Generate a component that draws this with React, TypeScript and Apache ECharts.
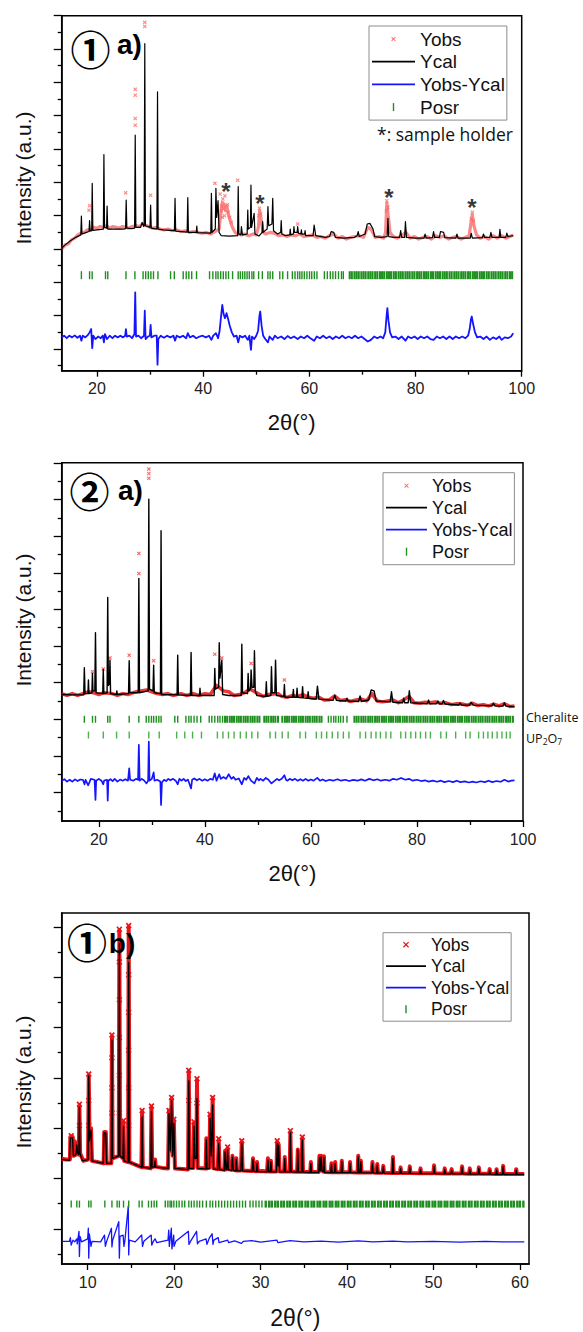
import React, { useEffect, useRef } from "react";
import * as echarts from "echarts";

const FONT = "'Liberation Sans', Arial, Helvetica, sans-serif";

// ================= Panel ① a) =================
const p1XTicks = [20, 40, 60, 80, 100];
const p1XMinorTicks = [30, 50, 70, 90];
const p1YTicks = [1.3, 3.3, 5.3, 7.3, 9.3, 11.3, 13.3, 15.3, 17.3, 19.3, 21.3];
const p1YMinorTicks = [0.3, 2.3, 4.3, 6.3, 8.3, 10.3, 12.3, 14.3, 16.3, 18.3, 20.3];

const p1Ycal = [
  [13.35, 7.35], [14.0, 7.55], [15.0, 7.8], [16.0, 8.0], [16.95, 8.15], [17.06, 9.28], [17.17, 8.2], [18.0, 8.3], [18.5, 8.35], [18.6, 9.0], [18.7, 8.38], [19.0, 8.4], [19.1, 11.24], [19.22, 8.42], [20.0, 8.45], [21.2, 8.5], [21.3, 12.97], [21.42, 8.6], [21.8, 8.55], [21.9, 9.88], [22.02, 8.5], [23.0, 8.5], [25.0, 8.5], [25.38, 8.52], [25.5, 10.24], [25.62, 8.55], [26.5, 8.52], [27.08, 8.55], [27.2, 14.13], [27.32, 8.6], [28.2, 8.6], [28.5, 8.9], [28.8, 8.65], [28.88, 8.7], [29.0, 19.62], [29.12, 8.7], [29.98, 8.6], [30.1, 9.94], [30.22, 8.55], [31.28, 8.5], [31.4, 16.73], [31.52, 8.5], [32.5, 8.45], [34.58, 8.4], [34.7, 10.34], [34.82, 8.38], [36.98, 8.32], [37.1, 10.38], [37.22, 8.3], [38.7, 8.3], [38.8, 8.68], [38.9, 8.28], [41.43, 8.25], [41.55, 10.64], [41.67, 8.3], [42.28, 8.5], [42.4, 10.94], [42.55, 9.2], [42.8, 10.2], [43.0, 8.3], [43.4, 8.1], [45.0, 8.08], [46.48, 8.1], [46.6, 11.04], [46.72, 8.2], [47.1, 8.15], [47.2, 8.64], [47.4, 8.15], [48.28, 8.2], [48.4, 9.64], [48.5, 8.5], [48.9, 8.6], [49.0, 11.14], [49.12, 8.6], [49.6, 9.44], [49.75, 8.2], [50.5, 8.08], [51.1, 8.3], [51.2, 8.94], [51.3, 8.3], [52.05, 8.5], [52.2, 9.84], [52.35, 8.7], [52.95, 8.8], [53.1, 10.34], [53.25, 8.4], [54.0, 8.2], [54.6, 8.3], [54.7, 9.0], [54.82, 8.2], [55.5, 8.1], [56.3, 8.15], [56.4, 8.5], [56.5, 8.15], [57.0, 8.2], [57.1, 8.64], [57.2, 8.3], [57.7, 8.3], [57.8, 8.64], [57.95, 8.25], [58.4, 8.2], [58.5, 8.45], [58.6, 8.2], [59.1, 8.2], [59.2, 8.4], [59.3, 8.1], [60.7, 8.1], [60.9, 8.74], [61.2, 8.1], [63.0, 8.0], [63.8, 8.05], [64.1, 8.34], [64.6, 8.3], [64.9, 8.0], [66.5, 7.95], [68.5, 8.0], [69.0, 8.1], [69.2, 8.35], [69.4, 8.05], [70.5, 8.2], [70.9, 8.8], [71.4, 8.84], [72.0, 8.5], [72.3, 8.05], [73.5, 8.0], [74.65, 8.05], [74.8, 9.14], [74.95, 8.05], [76.0, 8.0], [77.0, 8.0], [77.2, 8.4], [77.4, 8.0], [77.95, 8.0], [78.1, 8.94], [78.3, 8.0], [80.0, 7.95], [81.6, 7.95], [81.8, 8.2], [82.0, 7.95], [83.2, 7.98], [83.4, 8.35], [83.6, 8.0], [84.5, 8.0], [84.7, 8.35], [85.3, 8.3], [85.5, 7.98], [87.6, 7.95], [87.8, 8.2], [88.0, 7.95], [90.3, 7.95], [90.5, 8.24], [90.7, 7.95], [92.6, 7.98], [92.8, 8.2], [93.0, 8.0], [94.0, 8.0], [94.2, 8.3], [94.4, 8.0], [95.75, 8.0], [95.9, 8.48], [96.05, 8.0], [97.0, 8.0], [97.2, 8.25], [97.4, 8.05], [98.4, 8.1],
];

const p1YobsBand = [
  [13.35, 7.3], [14.0, 7.55], [14.6, 7.6], [15.2, 7.85], [15.8, 7.95], [16.4, 8.15], [17.0, 8.25], [17.6, 8.3], [18.2, 8.45], [18.8, 8.45], [19.4, 8.6], [20.0, 8.55], [20.6, 8.65], [21.2, 8.6], [21.8, 8.7], [22.4, 8.55], [23.0, 8.65], [23.6, 8.6], [24.2, 8.55], [24.8, 8.65], [25.4, 8.6], [26.0, 8.55], [26.6, 8.65], [27.4, 8.7], [28.0, 8.65], [28.6, 8.8], [29.4, 8.7], [30.0, 8.6], [30.6, 8.55], [31.2, 8.6], [31.8, 8.5], [32.6, 8.45], [33.4, 8.5], [34.2, 8.4], [35.0, 8.45], [35.8, 8.35], [36.6, 8.4], [37.4, 8.3], [38.2, 8.35], [39.0, 8.3], [39.8, 8.25], [40.6, 8.3], [41.4, 8.2], [42.2, 8.35], [43.0, 8.5], [43.3, 9.4], [43.6, 10.1], [43.9, 10.0], [44.2, 9.6], [44.5, 9.8], [44.8, 9.3], [45.1, 9.0], [45.5, 8.6], [46.0, 8.3], [46.5, 8.2], [47.2, 8.15], [47.8, 8.2], [48.6, 8.1], [49.4, 8.2], [50.0, 8.15], [50.4, 8.6], [50.65, 9.6], [50.9, 9.1], [51.3, 8.3], [51.8, 8.2], [52.6, 8.3], [53.4, 8.25], [54.2, 8.1], [55.0, 8.15], [55.8, 8.05], [56.6, 8.15], [57.4, 8.1], [58.2, 8.2], [59.0, 8.05], [59.8, 8.1], [60.6, 8.15], [61.4, 8.0], [62.2, 8.05], [63.0, 7.95], [63.8, 8.1], [64.6, 8.2], [65.4, 7.95], [66.2, 8.05], [67.0, 7.9], [67.8, 8.0], [68.6, 8.05], [69.4, 8.1], [70.2, 8.0], [71.0, 8.6], [71.6, 8.5], [72.4, 8.0], [73.2, 8.05], [74.0, 7.95], [74.35, 8.3], [74.6, 10.05], [74.85, 9.3], [75.2, 8.3], [75.8, 8.05], [76.6, 7.95], [77.4, 8.1], [78.2, 8.3], [79.0, 7.95], [79.8, 8.05], [80.6, 7.9], [81.4, 8.0], [82.2, 8.05], [83.0, 7.9], [83.8, 8.1], [84.6, 8.0], [85.4, 8.1], [86.2, 7.9], [87.0, 8.0], [87.8, 8.05], [88.6, 7.9], [89.4, 8.0], [90.1, 8.1], [90.45, 8.9], [90.7, 9.35], [91.0, 8.7], [91.5, 8.15], [92.2, 7.95], [93.0, 8.05], [93.8, 7.9], [94.6, 8.1], [95.4, 7.95], [96.2, 8.1], [97.0, 7.95], [97.8, 8.05], [98.4, 8.15],
];

const p1YobsPoints = [
  [18.5, 9.63], [18.6, 9.9], [25.4, 10.67], [27.2, 16.88], [27.2, 16.53], [27.2, 15.13], [27.2, 14.73], [29.0, 20.9], [29.0, 20.65], [30.1, 10.53], [42.2, 11.24], [46.5, 11.43], [57.8, 8.8], [43.2, 10.6], [44.1, 10.5], [43.7, 10.3], [44.6, 9.95], [50.6, 9.75], [74.6, 10.2], [90.7, 9.5],
  [43.4, 9.6], [43.5, 9.9], [43.8, 9.7], [44.0, 9.3], [44.3, 9.9], [44.7, 9.5], [45.0, 9.2], [45.3, 8.9], [43.6, 9.2], [50.5, 9.3], [50.8, 9.4], [74.5, 9.6], [74.8, 9.8], [90.5, 9.1], [90.9, 9.0],
];

const p1Diff = [
  [13.35, 2.0], [13.8, 2.1], [14.3, 1.95], [14.8, 2.1], [15.3, 2.0], [15.8, 2.12], [16.3, 1.98], [16.8, 2.1], [17.06, 1.8], [17.3, 2.1], [17.8, 2.0], [18.3, 2.15], [18.6, 2.3], [18.9, 2.5], [19.1, 1.35], [19.3, 2.1], [19.7, 1.9], [20.2, 2.05], [20.7, 1.95], [21.1, 2.1], [21.3, 1.7], [21.5, 2.2], [21.9, 1.9], [22.4, 2.1], [22.9, 1.95], [23.4, 2.1], [23.9, 2.0], [24.4, 2.1], [24.9, 2.0], [25.3, 2.1], [25.45, 2.5], [25.6, 2.05], [26.1, 2.1], [26.6, 1.95], [27.05, 2.2], [27.2, 4.7], [27.35, 2.05], [27.8, 2.1], [28.3, 1.95], [28.85, 2.1], [29.0, 3.6], [29.15, 1.9], [29.6, 2.05], [29.95, 2.1], [30.1, 2.75], [30.25, 2.0], [30.8, 2.1], [31.25, 2.1], [31.4, 0.36], [31.55, 1.9], [32.0, 2.1], [32.6, 1.98], [33.2, 2.1], [33.8, 2.0], [34.4, 2.1], [34.7, 1.8], [35.0, 2.1], [35.6, 2.0], [36.2, 2.1], [36.8, 1.95], [37.1, 2.25], [37.5, 2.0], [38.1, 2.1], [38.7, 1.95], [39.3, 2.05], [39.9, 2.1], [40.5, 2.0], [41.1, 2.1], [41.55, 1.85], [41.9, 2.1], [42.4, 2.25], [42.8, 1.95], [43.1, 2.4], [43.35, 3.2], [43.6, 3.95], [43.85, 3.4], [44.1, 3.15], [44.4, 3.45], [44.7, 3.1], [45.0, 2.7], [45.4, 2.3], [45.8, 2.05], [46.3, 2.1], [46.6, 1.7], [46.9, 2.1], [47.4, 2.0], [47.9, 2.1], [48.4, 1.85], [48.7, 2.1], [49.0, 1.25], [49.2, 2.05], [49.6, 1.9], [50.0, 2.1], [50.35, 2.4], [50.6, 3.3], [50.75, 3.55], [51.0, 2.7], [51.3, 2.1], [51.7, 1.9], [52.2, 1.7], [52.5, 2.05], [53.1, 1.85], [53.5, 2.1], [54.0, 1.95], [54.7, 2.05], [55.3, 1.9], [55.9, 2.08], [56.5, 1.95], [57.1, 2.05], [57.8, 1.9], [58.4, 2.05], [59.0, 1.95], [59.6, 2.1], [60.2, 1.95], [60.9, 1.8], [61.4, 2.05], [62.0, 1.95], [62.6, 2.1], [63.2, 1.95], [63.8, 2.05], [64.4, 1.9], [65.0, 2.05], [65.6, 1.95], [66.2, 2.1], [66.8, 1.95], [67.4, 2.05], [68.0, 1.95], [68.6, 2.1], [69.2, 1.95], [69.8, 2.05], [70.4, 1.9], [71.0, 1.75], [71.6, 1.85], [72.2, 2.05], [72.8, 1.95], [73.4, 2.05], [73.9, 1.95], [74.3, 2.3], [74.55, 3.3], [74.7, 3.75], [74.9, 3.0], [75.2, 2.3], [75.6, 2.0], [76.2, 2.05], [76.8, 1.9], [77.4, 2.05], [78.1, 1.8], [78.6, 2.05], [79.2, 1.95], [79.8, 2.05], [80.4, 1.9], [81.0, 2.05], [81.6, 1.95], [82.2, 2.05], [82.8, 1.9], [83.4, 1.85], [84.0, 2.05], [84.6, 1.95], [85.2, 2.05], [85.8, 1.9], [86.4, 2.05], [87.0, 1.9], [87.6, 2.05], [88.2, 1.95], [88.8, 2.05], [89.4, 1.95], [89.9, 2.1], [90.2, 2.5], [90.45, 3.1], [90.6, 3.25], [90.85, 2.8], [91.2, 2.3], [91.6, 2.0], [92.2, 2.05], [92.8, 1.9], [93.4, 2.05], [94.0, 1.85], [94.6, 2.0], [95.2, 1.9], [95.8, 2.05], [96.2, 1.85], [96.8, 2.0], [97.4, 1.95], [98.0, 2.05], [98.4, 2.25],
];

const p1Posr = [17.06, 18.6, 19.09, 21.6, 22.03, 25.46, 27.14, 28.68, 29.17, 29.66, 30.15, 30.64, 31.48, 33.86, 34.56, 36.24, 36.8, 37.3, 37.84, 38.75, 41.2, 41.83, 42.39, 42.8, 43.3, 43.79, 44.28, 44.77, 45.54, 46.6, 47.0, 47.43, 47.85, 48.27, 48.69, 49.18, 49.53, 50.44, 51.14, 52.19, 52.61, 53.1, 54.43, 54.99, 55.9, 56.8, 57.3, 57.79, 58.2, 58.6, 59.05, 59.54, 60.03, 60.45, 60.94, 61.43, 62.83, 63.39, 63.95, 64.44, 64.93, 65.49, 66.05, 66.4];
const p1PosrDense = [67.6, 68.0, 68.5, 68.9, 69.3, 69.8, 70.2, 70.6, 71.1, 71.5, 71.9, 72.4, 72.8, 73.3, 73.7, 74.1, 74.6, 75.0, 75.4, 75.9, 76.3, 76.8, 77.2, 77.6, 78.1, 78.5, 78.9, 79.4, 79.8, 80.3, 80.7, 81.1, 81.6, 82.0, 82.4, 82.9, 83.3, 83.8, 84.2, 84.6, 85.1, 85.5, 85.9, 86.4, 86.8, 87.3, 87.7, 88.1, 88.6, 89.0, 89.4, 89.9, 90.3, 90.8, 91.2, 91.6, 92.1, 92.5, 92.9, 93.4, 93.8, 94.3, 94.7, 95.1, 95.6, 96.0, 96.4, 96.9, 97.3, 97.8, 98.2];
const p1Holder = [[44.3, 11.13], [50.7, 10.41], [75.0, 10.77], [90.6, 10.17]];

// ================= Panel ② a) =================
const p2XTicks = [20, 40, 60, 80, 100];
const p2XMinorTicks = [30, 50, 70, 90];
const p2YTicks = [1.545, 3.545, 5.545, 7.545, 9.545, 11.545, 13.545, 15.545, 17.545, 19.545];
const p2YMinorTicks = [0.545, 2.545, 4.545, 6.545, 8.545, 10.545, 12.545, 14.545, 16.545, 18.545];

const p2Ycal = [
  [13.0, 6.9], [15.0, 6.88], [17.15, 6.88], [17.27, 8.36], [17.4, 6.95], [17.95, 6.95], [18.04, 7.69], [18.14, 6.95], [18.7, 7.0], [18.8, 8.05], [18.9, 7.1], [19.25, 7.1], [19.37, 10.27], [19.5, 7.0], [20.74, 6.95], [20.84, 8.27], [20.95, 6.95], [21.56, 7.0], [21.68, 12.2], [21.8, 7.4], [22.0, 7.5], [22.1, 8.78], [22.22, 6.95], [23.3, 6.9], [23.4, 7.1], [23.5, 6.9], [25.6, 6.95], [25.73, 8.75], [25.86, 7.0], [27.43, 7.0], [27.55, 13.24], [27.67, 7.0], [29.3, 7.1], [29.43, 17.56], [29.56, 7.2], [30.22, 7.1], [30.34, 8.5], [30.46, 7.0], [31.62, 6.95], [31.74, 15.84], [31.86, 6.9], [34.76, 6.88], [34.88, 9.05], [35.0, 6.88], [37.28, 6.85], [37.4, 9.2], [37.52, 6.85], [38.98, 6.85], [39.08, 7.24], [39.18, 6.85], [41.75, 6.85], [41.87, 8.33], [42.0, 7.2], [42.6, 7.3], [42.71, 9.73], [42.85, 7.8], [43.2, 8.78], [43.35, 6.9], [44.5, 6.85], [46.85, 6.85], [46.97, 9.64], [47.1, 7.0], [48.04, 6.95], [48.16, 8.05], [48.3, 7.1], [48.62, 7.2], [48.72, 8.24], [48.9, 7.3], [49.23, 7.3], [49.35, 9.29], [49.5, 7.1], [49.8, 6.85], [51.47, 6.8], [51.59, 7.6], [51.71, 6.8], [52.44, 6.85], [52.56, 8.42], [52.7, 7.0], [53.2, 7.0], [53.33, 8.78], [53.5, 6.85], [54.88, 6.8], [55.0, 7.45], [55.12, 6.75], [56.57, 6.75], [56.69, 7.18], [56.81, 6.75], [57.27, 6.75], [57.39, 7.24], [57.51, 6.75], [58.3, 6.72], [58.43, 7.33], [58.56, 6.72], [59.35, 6.7], [59.48, 7.05], [59.6, 6.7], [61.0, 6.65], [61.23, 7.36], [61.5, 6.65], [64.2, 6.58], [64.51, 6.87], [64.8, 6.58], [66.6, 6.55], [66.8, 6.7], [67.0, 6.55], [69.0, 6.52], [69.27, 6.82], [69.5, 6.52], [70.9, 6.6], [71.36, 7.15], [71.92, 7.1], [72.3, 6.55], [74.95, 6.5], [75.2, 7.05], [75.45, 6.48], [77.3, 6.45], [77.5, 6.7], [77.7, 6.45], [78.35, 6.45], [78.56, 7.11], [78.8, 6.45], [81.95, 6.4], [82.19, 6.6], [82.4, 6.4], [83.7, 6.4], [83.94, 6.55], [84.2, 6.4], [84.75, 6.4], [84.99, 6.58], [85.3, 6.38], [87.9, 6.33], [88.13, 6.45], [88.4, 6.33], [89.9, 6.32], [90.2, 6.48], [90.6, 6.32], [94.1, 6.28], [94.4, 6.42], [94.7, 6.28], [96.25, 6.27], [96.5, 6.45], [96.75, 6.27], [98.4, 6.24],
];

const p2YobsBand = [
  [13.0, 6.95], [14.0, 6.85], [15.0, 6.95], [16.0, 6.85], [17.0, 6.95], [18.0, 7.05], [19.0, 7.0], [20.0, 6.9], [21.0, 7.0], [22.5, 6.95], [23.5, 6.85], [24.5, 6.95], [25.5, 6.9], [26.5, 7.0], [27.0, 7.05], [28.0, 7.1], [29.0, 7.15], [30.0, 7.05], [31.0, 6.95], [32.0, 6.9], [33.0, 6.95], [34.0, 6.85], [35.5, 6.95], [36.5, 6.85], [37.8, 6.95], [38.8, 6.85], [40.0, 6.95], [41.0, 6.9], [42.2, 7.4], [43.5, 7.1], [44.5, 7.05], [45.5, 6.85], [46.5, 6.9], [47.5, 7.0], [48.5, 7.2], [50.0, 6.95], [51.0, 6.8], [52.0, 6.9], [53.8, 6.95], [54.5, 6.8], [55.5, 6.75], [56.5, 6.85], [57.5, 6.8], [58.5, 6.9], [59.5, 6.75], [60.5, 6.7], [61.5, 6.75], [62.5, 6.6], [63.5, 6.62], [64.5, 6.82], [65.5, 6.58], [66.5, 6.62], [67.5, 6.52], [68.5, 6.6], [69.5, 6.65], [70.5, 6.55], [71.5, 6.95], [72.5, 6.55], [73.5, 6.5], [74.5, 6.55], [75.5, 6.6], [76.5, 6.45], [77.5, 6.62], [78.5, 6.8], [79.5, 6.45], [80.5, 6.42], [81.5, 6.48], [82.5, 6.45], [83.5, 6.5], [84.5, 6.42], [85.5, 6.45], [86.5, 6.35], [87.5, 6.4], [88.5, 6.38], [89.5, 6.32], [90.5, 6.42], [91.5, 6.3], [92.5, 6.35], [93.5, 6.28], [94.5, 6.38], [95.5, 6.28], [96.5, 6.4], [97.5, 6.25], [98.4, 6.28],
];

const p2YobsPoints = [
  [18.8, 8.15], [20.84, 8.3], [22.1, 8.9], [25.73, 9.05], [27.55, 14.6], [27.55, 13.5], [29.43, 19.2], [29.43, 18.96], [29.43, 18.7], [30.34, 8.75], [41.87, 9.1], [43.2, 8.9], [48.72, 8.6], [55.0, 7.7],
];

const p2Diff = [
  [13.0, 2.2], [13.5, 2.28], [14.0, 2.15], [14.5, 2.25], [15.0, 2.15], [15.5, 2.27], [16.0, 2.18], [16.5, 2.26], [17.0, 2.25], [17.3, 2.0], [17.5, 2.25], [18.0, 1.95], [18.5, 2.3], [19.2, 2.25], [19.37, 1.15], [19.5, 2.2], [20.0, 2.3], [20.5, 2.2], [20.84, 2.0], [21.0, 2.2], [21.56, 2.25], [21.68, 1.11], [21.8, 2.2], [22.2, 2.28], [22.6, 2.18], [23.0, 2.3], [23.5, 2.15], [24.0, 2.26], [24.5, 2.2], [25.0, 2.28], [25.5, 2.2], [25.73, 2.87], [25.9, 2.25], [26.5, 2.2], [27.0, 2.3], [27.4, 2.25], [27.55, 4.15], [27.7, 2.2], [28.1, 2.3], [28.5, 2.22], [29.0, 2.05], [29.3, 2.2], [29.43, 4.33], [29.56, 2.2], [30.0, 2.3], [30.34, 2.65], [30.5, 2.2], [31.0, 2.25], [31.6, 2.15], [31.74, 0.87], [31.9, 2.1], [32.3, 2.25], [32.7, 2.18], [33.1, 2.3], [33.5, 2.22], [34.0, 2.3], [34.5, 2.2], [34.88, 2.0], [35.2, 2.3], [35.6, 2.2], [36.0, 2.3], [36.4, 2.18], [36.8, 2.26], [37.4, 1.78], [37.6, 2.25], [38.0, 2.32], [38.5, 2.22], [39.0, 2.3], [39.5, 2.2], [40.0, 2.28], [40.5, 2.2], [41.0, 2.3], [41.5, 2.25], [41.87, 2.6], [42.2, 2.2], [42.71, 2.55], [43.0, 2.3], [43.5, 2.4], [44.0, 2.3], [44.5, 2.55], [45.0, 2.3], [45.4, 2.4], [45.8, 2.25], [46.4, 2.32], [46.97, 2.0], [47.4, 2.35], [47.8, 2.25], [48.2, 2.45], [48.7, 2.2], [49.35, 2.05], [49.8, 2.35], [50.2, 2.22], [50.5, 2.3], [51.0, 2.2], [51.5, 2.35], [52.0, 2.25], [52.56, 2.05], [53.2, 2.2], [53.6, 2.3], [54.0, 2.22], [54.5, 2.3], [55.0, 2.5], [55.3, 2.25], [55.6, 2.2], [56.0, 2.3], [56.5, 2.22], [57.0, 2.3], [57.5, 2.2], [58.0, 2.28], [58.5, 2.2], [59.0, 2.3], [59.5, 2.2], [60.0, 2.27], [60.5, 2.2], [61.2, 2.35], [61.7, 2.2], [62.2, 2.27], [62.8, 2.18], [63.5, 2.25], [64.2, 2.2], [65.0, 2.28], [65.7, 2.2], [66.5, 2.25], [67.2, 2.18], [68.0, 2.24], [68.8, 2.2], [69.5, 2.27], [70.2, 2.2], [71.0, 2.3], [71.8, 2.22], [72.5, 2.28], [73.2, 2.2], [74.0, 2.25], [74.8, 2.2], [75.5, 2.3], [76.2, 2.25], [77.0, 2.35], [77.8, 2.25], [78.5, 2.3], [79.2, 2.2], [80.0, 2.25], [80.8, 2.18], [81.5, 2.22], [82.2, 2.15], [83.0, 2.2], [83.8, 2.14], [84.5, 2.2], [85.2, 2.12], [86.0, 2.18], [86.8, 2.12], [87.5, 2.2], [88.2, 2.12], [89.0, 2.16], [89.8, 2.1], [90.5, 2.15], [91.2, 2.1], [92.0, 2.17], [92.8, 2.12], [93.5, 2.2], [94.2, 2.12], [95.0, 2.18], [95.8, 2.14], [96.5, 2.25], [97.2, 2.15], [97.8, 2.2], [98.4, 2.22],
];

const p2Cheralite = [17.27, 18.81, 19.37, 21.68, 22.1, 25.73, 27.55, 28.94, 29.43, 29.92, 30.34, 30.83, 31.32, 31.74, 34.33, 34.88, 36.42, 36.98, 37.4, 37.96, 38.52, 39.22, 40.82, 41.31, 41.87, 42.43, 42.85, 43.34, 63.3, 63.8, 64.3, 64.7, 65.2, 65.6, 66.1, 66.8];
const p2CheraliteDense = [43.8, 44.2, 44.7, 45.1, 45.5, 46.0, 46.4, 46.8, 47.3, 47.7, 48.1, 48.6, 49.0, 49.4, 49.9, 50.3, 51.2, 51.6, 52.0, 52.5, 52.9, 53.3, 53.8, 54.6, 55.1, 55.5, 55.9, 56.4, 56.8, 57.2, 57.7, 58.1, 58.5, 59.0, 59.4, 59.8, 60.3, 60.7, 61.1, 61.6, 62.0, 68.2, 68.6, 69.0, 69.5, 69.9, 70.3, 70.8, 71.2, 71.6, 72.1, 72.5, 72.9, 73.4, 73.8, 74.2, 74.7, 75.1, 75.5, 76.0, 76.4, 76.8, 77.3, 77.7, 78.1, 78.6, 79.0, 79.4, 79.9, 80.3, 80.7, 81.2, 81.6, 82.0, 82.5, 82.9, 83.3, 83.8, 84.2, 84.6, 85.1, 85.5, 85.9, 86.4, 86.8, 87.2, 87.7, 88.1, 88.5, 89.0, 89.4, 89.8, 90.3, 90.7, 91.1, 91.6, 92.0, 92.4, 92.9, 93.3, 93.7, 94.2, 94.6, 95.0, 95.5, 95.9, 96.3, 96.8, 97.2, 97.6, 98.1];
const p2UP2O7 = [18.04, 20.84, 23.35, 25.73, 29.43, 31.39, 34.68, 36.21, 37.68, 39.36, 42.36, 43.41, 44.46, 45.51, 46.69, 47.81, 48.86, 49.98, 52.29, 53.33, 54.59, 55.71, 57.95, 58.99, 61.02, 62.0, 62.98, 64.03, 65.07, 66.12, 67.17, 69.27, 70.31, 71.36, 72.27, 73.11, 74.16, 75.07, 76.95, 77.86, 78.84, 79.75, 80.66, 81.64, 82.54, 84.5, 85.55, 87.3, 89.18, 90.02, 91.63, 92.54, 93.38, 94.21, 95.12, 96.03, 96.87, 97.57];

// ================= Panel ① b) =================
const p3XTicks = [10, 20, 30, 40, 50, 60];
const p3XMinorTicks = [15, 25, 35, 45, 55];
const p3YTicks = [1.4, 3.4, 5.4, 7.4, 9.4, 11.4, 13.4];
const p3YMinorTicks = [0.4, 2.4, 4.4, 6.4, 8.4, 10.4, 12.4];

const p3Ycal = [
  [7.0, 4.16], [7.9, 4.12], [8.0, 5.0], [8.25, 5.02], [8.35, 4.3], [8.65, 4.35], [8.75, 4.73], [8.85, 4.4], [8.98, 4.35], [9.05, 6.23], [9.12, 4.4], [9.4, 4.1], [10.05, 4.15], [10.13, 7.48], [10.2, 4.9], [10.39, 5.32], [10.5, 4.1], [11.8, 4.0], [11.9, 5.22], [12.1, 5.2], [12.2, 4.0], [12.74, 4.0], [12.81, 8.9], [12.88, 4.2], [13.6, 4.3], [13.67, 12.74], [13.74, 4.3], [14.08, 4.2], [14.15, 5.46], [14.22, 4.1], [14.68, 4.05], [14.75, 11.99], [14.82, 4.05], [16.22, 3.85], [16.3, 5.85], [16.38, 3.85], [17.3, 3.8], [17.38, 6.05], [17.46, 3.85], [17.72, 3.85], [17.8, 4.1], [17.88, 3.85], [19.3, 3.8], [19.41, 5.99], [19.55, 4.5], [19.71, 6.49], [19.85, 4.3], [19.97, 5.59], [20.1, 3.8], [21.62, 3.75], [21.7, 7.28], [21.78, 3.8], [22.23, 3.8], [22.31, 5.48], [22.4, 4.2], [22.58, 4.2], [22.65, 6.58], [22.72, 3.8], [23.65, 3.78], [23.73, 4.93], [23.81, 3.78], [24.08, 3.8], [24.16, 5.79], [24.3, 4.3], [24.46, 6.32], [24.56, 3.78], [25.05, 3.75], [25.16, 4.79], [25.27, 3.75], [25.8, 3.72], [25.9, 4.46], [26.0, 3.75], [26.1, 3.75], [26.19, 4.53], [26.28, 3.75], [26.65, 3.72], [26.75, 4.26], [26.85, 3.72], [27.12, 3.7], [27.2, 4.16], [27.28, 3.7], [27.73, 3.7], [27.83, 4.79], [27.93, 3.7], [29.03, 3.68], [29.13, 4.16], [29.23, 3.68], [29.52, 3.67], [29.6, 4.0], [29.68, 3.67], [30.75, 3.66], [30.85, 4.13], [30.95, 3.66], [31.12, 3.66], [31.2, 4.07], [31.28, 3.66], [31.83, 3.66], [31.93, 4.79], [32.02, 3.9], [32.1, 4.72], [32.2, 3.66], [32.72, 3.66], [32.8, 4.2], [32.88, 3.66], [33.37, 3.66], [33.45, 5.22], [33.53, 3.66], [34.23, 3.65], [34.31, 4.53], [34.39, 3.65], [34.75, 3.65], [34.83, 4.93], [34.91, 3.65], [35.74, 3.64], [35.82, 4.0], [35.9, 3.64], [36.73, 3.64], [36.81, 4.24], [36.9, 3.7], [37.0, 4.26], [37.1, 3.7], [37.25, 3.66], [37.33, 4.24], [37.41, 3.64], [38.12, 3.63], [38.2, 3.96], [38.28, 3.63], [38.55, 3.63], [38.63, 4.0], [38.71, 3.63], [39.32, 3.63], [39.4, 4.07], [39.48, 3.63], [40.27, 3.63], [40.35, 4.0], [40.43, 3.63], [41.22, 3.62], [41.3, 4.26], [41.38, 3.62], [41.52, 3.62], [41.6, 4.07], [41.68, 3.62], [42.86, 3.62], [42.94, 4.0], [43.02, 3.62], [43.42, 3.61], [43.5, 3.93], [43.58, 3.61], [44.12, 3.61], [44.2, 3.87], [44.28, 3.61], [45.23, 3.6], [45.31, 4.2], [45.39, 3.6], [46.12, 3.6], [46.2, 3.8], [46.28, 3.6], [47.18, 3.6], [47.26, 3.84], [47.34, 3.6], [48.42, 3.59], [48.5, 3.76], [48.58, 3.59], [49.99, 3.59], [50.07, 3.87], [50.15, 3.59], [51.22, 3.58], [51.3, 3.76], [51.38, 3.58], [52.02, 3.58], [52.1, 3.73], [52.18, 3.58], [53.23, 3.58], [53.31, 3.84], [53.39, 3.58], [54.12, 3.57], [54.2, 3.76], [54.28, 3.57], [55.17, 3.57], [55.25, 3.8], [55.33, 3.57], [56.42, 3.57], [56.5, 3.73], [56.58, 3.57], [57.22, 3.56], [57.3, 3.73], [57.38, 3.56], [57.98, 3.56], [58.06, 3.87], [58.14, 3.56], [59.49, 3.56], [59.57, 3.73], [59.65, 3.56], [60.5, 3.56],
];

const p3YobsBand = [
  [7.0, 4.18], [7.5, 4.15], [7.95, 4.15], [8.0, 5.05], [8.28, 5.05], [8.36, 4.3], [8.68, 4.35], [8.75, 4.8], [8.83, 4.4], [8.98, 4.35], [9.05, 6.3], [9.13, 4.4], [9.5, 4.1], [10.05, 4.15], [10.13, 7.5], [10.22, 4.9], [10.39, 5.4], [10.5, 4.1], [11.2, 4.05], [11.85, 4.0], [11.92, 5.25], [12.1, 5.25], [12.2, 4.0], [12.74, 4.0], [12.81, 9.03], [12.89, 4.2], [13.6, 4.3], [13.67, 13.25], [13.75, 4.3], [14.08, 4.2], [14.15, 5.6], [14.23, 4.1], [14.68, 4.05], [14.75, 13.4], [14.83, 4.05], [15.5, 3.95], [16.22, 3.85], [16.3, 6.05], [16.38, 3.85], [17.3, 3.8], [17.38, 6.23], [17.47, 3.85], [17.72, 3.87], [17.8, 4.15], [17.88, 3.87], [18.6, 3.82], [19.3, 3.8], [19.41, 6.1], [19.55, 4.5], [19.71, 6.58], [19.85, 4.3], [19.97, 5.7], [20.1, 3.8], [21.0, 3.78], [21.62, 3.76], [21.7, 7.64], [21.79, 3.82], [22.23, 3.82], [22.31, 5.6], [22.4, 4.2], [22.58, 4.2], [22.65, 7.31], [22.73, 3.82], [23.65, 3.8], [23.73, 5.0], [23.81, 3.8], [24.08, 3.82], [24.16, 5.9], [24.3, 4.3], [24.46, 6.58], [24.56, 3.8], [25.05, 3.77], [25.16, 4.93], [25.27, 3.77], [25.8, 3.74], [25.9, 4.5], [26.0, 3.77], [26.1, 3.77], [26.19, 4.6], [26.28, 3.77], [26.65, 3.74], [26.75, 4.3], [26.85, 3.74], [27.12, 3.72], [27.2, 4.2], [27.28, 3.72], [27.73, 3.72], [27.83, 4.85], [27.93, 3.72], [28.5, 3.71], [29.03, 3.7], [29.13, 4.2], [29.23, 3.7], [29.52, 3.69], [29.6, 4.05], [29.68, 3.69], [30.2, 3.7], [30.75, 3.68], [30.85, 4.2], [30.95, 3.68], [31.12, 3.68], [31.2, 4.1], [31.28, 3.68], [31.83, 3.68], [31.93, 4.85], [32.02, 3.92], [32.1, 4.75], [32.2, 3.68], [32.72, 3.68], [32.8, 4.25], [32.88, 3.68], [33.37, 3.68], [33.45, 5.25], [33.53, 3.68], [34.23, 3.67], [34.31, 4.55], [34.39, 3.67], [34.75, 3.67], [34.83, 5.0], [34.91, 3.67], [35.74, 3.66], [35.82, 4.05], [35.9, 3.66], [36.73, 3.66], [36.81, 4.3], [36.9, 3.72], [37.0, 4.3], [37.1, 3.72], [37.25, 3.68], [37.33, 4.28], [37.41, 3.66], [38.12, 3.65], [38.2, 4.0], [38.28, 3.65], [38.55, 3.65], [38.63, 4.05], [38.71, 3.65], [39.32, 3.65], [39.4, 4.1], [39.48, 3.65], [40.27, 3.65], [40.35, 4.05], [40.43, 3.65], [41.22, 3.64], [41.3, 4.3], [41.38, 3.64], [41.52, 3.64], [41.6, 4.1], [41.68, 3.64], [42.86, 3.64], [42.94, 4.05], [43.02, 3.64], [43.42, 3.63], [43.5, 3.97], [43.58, 3.63], [44.12, 3.63], [44.2, 3.9], [44.28, 3.63], [45.23, 3.62], [45.31, 4.25], [45.39, 3.62], [46.12, 3.62], [46.2, 3.84], [46.28, 3.62], [47.18, 3.62], [47.26, 3.88], [47.34, 3.62], [48.42, 3.61], [48.5, 3.8], [48.58, 3.61], [49.99, 3.61], [50.07, 3.92], [50.15, 3.61], [51.22, 3.6], [51.3, 3.8], [51.38, 3.6], [52.02, 3.6], [52.1, 3.77], [52.18, 3.6], [53.23, 3.6], [53.31, 3.88], [53.39, 3.6], [54.12, 3.59], [54.2, 3.8], [54.28, 3.59], [55.17, 3.59], [55.25, 3.84], [55.33, 3.59], [56.42, 3.59], [56.5, 3.77], [56.58, 3.59], [57.22, 3.58], [57.3, 3.77], [57.38, 3.58], [57.98, 3.58], [58.06, 3.9], [58.14, 3.58], [59.49, 3.58], [59.57, 3.77], [59.65, 3.58], [60.5, 3.58],
];

const p3YobsPoints = [
  [8.1, 5.1], [8.75, 4.85], [9.05, 6.35], [9.05, 5.5], [10.13, 7.55], [10.13, 6.5], [10.13, 5.5], [12.81, 9.1], [12.81, 8.2], [12.81, 7.0], [12.81, 6.0], [13.67, 13.3], [13.67, 12.0], [13.67, 10.5], [13.67, 9.0], [13.67, 7.5], [13.67, 6.0], [14.15, 5.7], [14.75, 13.45], [14.75, 11.5], [14.75, 10.0], [14.75, 8.5], [14.75, 7.0], [14.75, 5.5], [16.3, 6.1], [17.38, 6.28], [19.41, 6.1], [19.71, 6.62], [19.97, 5.75], [21.7, 7.7], [21.7, 6.5], [22.31, 5.65], [22.65, 7.36], [22.65, 6.4], [24.16, 5.95], [24.46, 6.62], [25.16, 4.98], [26.19, 4.65], [27.83, 4.9], [31.93, 4.9], [33.45, 5.3], [34.83, 5.05],
];

const p3Diff = [
  [7.0, 0.9], [7.9, 0.9], [8.0, 1.05], [8.1, 0.75], [8.3, 0.95], [8.5, 0.88], [8.75, 1.0], [8.8, 0.8], [9.0, 1.3], [9.05, 0.3], [9.12, 1.1], [9.3, 0.88], [10.0, 1.0], [10.08, 1.42], [10.13, 0.23], [10.2, 1.2], [10.39, 0.7], [10.5, 0.9], [11.5, 0.88], [11.95, 1.15], [12.05, 0.7], [12.2, 0.9], [12.75, 1.42], [12.81, 0.68], [12.9, 0.95], [13.6, 1.68], [13.67, 0.23], [13.74, 1.1], [14.1, 1.15], [14.2, 0.7], [14.3, 0.9], [14.7, 2.3], [14.75, 0.36], [14.82, 0.95], [15.5, 0.88], [16.25, 1.15], [16.35, 0.7], [16.5, 0.9], [17.35, 1.15], [17.42, 0.75], [17.6, 0.9], [17.8, 1.0], [18.0, 0.85], [19.3, 0.95], [19.38, 1.35], [19.45, 0.7], [19.68, 1.42], [19.75, 0.6], [19.95, 1.15], [20.0, 0.7], [20.2, 0.9], [21.65, 1.3], [21.72, 0.78], [21.9, 0.9], [22.6, 1.3], [22.7, 0.8], [22.9, 0.9], [23.7, 1.0], [23.8, 0.78], [24.1, 1.05], [24.4, 1.2], [24.5, 0.78], [24.6, 0.95], [25.1, 1.05], [25.2, 0.85], [26.2, 0.95], [26.3, 0.85], [27.0, 0.92], [27.8, 0.82], [28.0, 0.9], [29.0, 0.93], [30.0, 0.87], [31.9, 0.95], [32.0, 0.85], [33.4, 0.93], [35.0, 0.88], [37.0, 0.91], [39.0, 0.87], [41.3, 0.92], [43.0, 0.88], [45.3, 0.91], [47.0, 0.88], [50.0, 0.9], [53.0, 0.87], [56.0, 0.9], [58.0, 0.88], [60.5, 0.88],
];

const p3Posr = [8.1, 8.75, 9.05, 10.13, 10.39, 11.99, 12.81, 13.41, 13.67, 14.15, 14.75, 15.96, 16.3, 17.04, 17.38, 17.69, 17.99, 18.98, 19.28, 19.54, 19.71, 19.97, 20.28, 20.58, 20.92, 21.23, 21.7, 22.0, 22.31, 22.65, 22.95, 23.3, 23.73, 24.16, 24.46, 24.81, 25.16, 25.5, 25.85, 26.19, 26.54, 26.88, 27.23, 27.57, 27.92, 28.26, 28.78, 29.13, 29.47, 29.82, 30.16];
const p3PosrDense = [30.6, 31.0, 31.3, 31.7, 32.0, 32.4, 32.7, 33.1, 33.4, 33.8, 34.1, 34.5, 34.8, 35.2, 35.5, 35.9, 36.2, 36.6, 36.9, 37.3, 37.6, 38.0, 38.3, 38.7, 39.0, 39.4, 39.7, 40.1, 40.4, 40.8, 41.1, 41.5, 41.8, 42.2, 42.5, 42.9, 43.2, 43.6, 43.9, 44.3, 44.6, 45.0, 45.3, 45.7, 46.0, 46.4, 46.7, 47.1, 47.4, 47.8, 48.1, 48.5, 48.8, 49.2, 49.5, 49.9, 50.2, 50.6, 50.9, 51.3, 51.6, 52.0, 52.3, 52.7, 53.0, 53.4, 53.7, 54.1, 54.4, 54.8, 55.1, 55.5, 55.8, 56.2, 56.5, 56.9, 57.2, 57.6, 57.9, 58.3, 58.6, 59.0, 59.3, 59.7, 60.0, 60.4];

// ================= styling / layout =================
const RED_LIGHT = "#ff6a6a";
const RED = "#e8141a";
const BLUE = "#1414ff";
const GREEN = "#1f8f1f";
const GREEN_LIGHT = "#4cb04c";

const X_ICON_SMALL = "path://M0,0L0.01,0L0,0.01Z M10,16L9.99,16L10,15.99Z M0.5,4.8L1.8,3.5L9.5,11.2L8.2,12.5Z M8.2,3.5L9.5,4.8L1.8,12.5L0.5,11.2Z";
const X_ICON_BIG = "path://M0,0L0.01,0L0,0.01Z M10,12L9.99,12L10,11.99Z M0.5,2.8L1.8,1.5L9.5,9.2L8.2,10.5Z M8.2,1.5L9.5,2.8L1.8,10.5L0.5,9.2Z";
const X_SYMBOL = "path://M0,2L2,0L5,3L8,0L10,2L7,5L10,8L8,10L5,7L2,10L0,8L3,5Z";
const LINE_ICON = "path://M0,0L43,0L43,1.8L0,1.8Z";
const BAR_ICON = "path://M0,0L1.4,0L1.4,8L0,8Z";

function buildAxes(i: number, xr: number[], yr: number[], xt: number[], xmt: number[], yt: number[], ymt: number[], nameSize: number, nameGap: number) {
  const base = { type: "value", gridIndex: i, splitLine: { show: false }, silent: true };
  const tickLine = { color: "#000", width: 1.3 };
  const xAxes = [
    {
      ...base, position: "bottom", min: xr[0], max: xr[1],
      name: "2θ(°)", nameLocation: "middle", nameGap,
      nameTextStyle: { fontSize: nameSize, fontFamily: FONT, color: "#111" },
      axisLine: { show: true, onZero: false, lineStyle: { color: "#000", width: 1.5 } },
      axisTick: { show: true, customValues: xt, length: 6, lineStyle: tickLine },
      axisLabel: { show: true, customValues: xt, margin: 10, fontSize: 16, fontFamily: FONT, color: "#222" },
    },
    {
      ...base, position: "bottom", offset: 0, min: xr[0], max: xr[1],
      axisLine: { show: false, onZero: false },
      axisTick: { show: true, customValues: xmt, length: 4, lineStyle: tickLine },
      axisLabel: { show: false },
    },
  ];
  const yAxes = [
    {
      ...base, position: "left", min: yr[0], max: yr[1],
      axisLine: { show: true, onZero: false, lineStyle: { color: "#000", width: 1.5 } },
      axisTick: { show: true, customValues: yt, length: 8, lineStyle: tickLine },
      axisLabel: { show: false },
    },
    {
      ...base, position: "left", offset: 0, min: yr[0], max: yr[1],
      axisLine: { show: false, onZero: false },
      axisTick: { show: true, customValues: ymt, length: 4, lineStyle: tickLine },
      axisLabel: { show: false },
    },
  ];
  return { xAxes, yAxes };
}

function lineSeries(name: string, p: number, data: number[][], color: string, width: number, z: number) {
  return {
    type: "line", name, xAxisIndex: 2 * p, yAxisIndex: 2 * p, data,
    showSymbol: false, symbol: "none", silent: true, z,
    lineStyle: { color, width, join: "round" }, itemStyle: { color },
  };
}

function scatterSeries(name: string, p: number, data: number[][], color: string, symbol: string, size: any, z: number, opacity = 1) {
  return {
    type: "scatter", name, xAxisIndex: 2 * p, yAxisIndex: 2 * p, data,
    symbol, symbolSize: size, silent: true, z,
    itemStyle: { color, opacity },
  };
}

function legendFor(left: number, top: number, fontSize: number, gap: number, itemWidth: number, pad: number[], xIcon: string, obsColor: string) {
  return {
    orient: "vertical", left, top, padding: pad, itemWidth, itemHeight: 8, itemGap: gap,
    borderColor: "#8c8c8c", borderWidth: 1, selectedMode: false,
    textStyle: { fontSize, lineHeight: fontSize, fontFamily: FONT, color: "#111" },
    data: [
      { name: "Yobs", icon: xIcon, itemStyle: { color: obsColor, borderWidth: 0 } },
      { name: "Ycal", icon: LINE_ICON, itemStyle: { color: "#000", borderWidth: 0 } },
      { name: "Yobs-Ycal", icon: LINE_ICON, itemStyle: { color: BLUE, borderWidth: 0 } },
      { name: "Posr", icon: BAR_ICON, itemStyle: { color: GREEN, borderWidth: 0 } },
    ],
  };
}

export default function App() {
  const ref = useRef<HTMLDivElement>(null);

  useEffect(() => {
    document.body.style.margin = "0";
    if (!ref.current) return;
    const chart = echarts.init(ref.current, null, { renderer: "svg" });

    const a1 = buildAxes(0, [13.35, 100], [0, 21.3], p1XTicks, p1XMinorTicks, p1YTicks, p1YMinorTicks, 22, 41);
    const a2 = buildAxes(1, [13, 100], [0, 19.55], p2XTicks, p2XMinorTicks, p2YTicks, p2YMinorTicks, 22, 41);
    const a3 = buildAxes(2, [7.0, 61.05], [0, 13.95], p3XTicks, p3XMinorTicks, p3YTicks, p3YMinorTicks, 23, 42);

    const row1 = 5.73, row2a = 5.55, row2b = 4.69, row3 = 2.38;

    const series: any[] = [
      // panel 1
      lineSeries("Yobs", 0, p1YobsBand, "rgba(245,20,20,0.5)", 3.2, 2),
      scatterSeries("Yobs", 0, p1YobsPoints, RED_LIGHT, X_SYMBOL, 4, 3, 0.8),
      lineSeries("Ycal", 0, p1Ycal, "#000", 1.2, 4),
      lineSeries("Yobs-Ycal", 0, p1Diff, BLUE, 1.8, 4),
      scatterSeries("Posr", 0, p1Posr.map((v) => [v, row1]), GREEN, "rect", [1.4, 8], 4),
      scatterSeries("Posr", 0, p1PosrDense.map((v) => [v, row1]), GREEN, "rect", [2.1, 8], 4),
      {
        type: "scatter", name: "sample holder", xAxisIndex: 0, yAxisIndex: 0, data: p1Holder,
        symbolSize: 1, silent: true, z: 6, itemStyle: { color: "rgba(0,0,0,0)" },
        label: { show: true, position: "inside", formatter: "*", fontSize: 24, fontWeight: "bold", fontFamily: FONT, color: "#000", offset: [0, 6] },
      },
      // panel 2
      lineSeries("Yobs", 1, p2YobsBand, "rgba(230,20,20,0.85)", 3.5, 2),
      scatterSeries("Yobs", 1, p2YobsPoints, RED_LIGHT, X_SYMBOL, 4, 3),
      lineSeries("Ycal", 1, p2Ycal, "#000", 1.4, 4),
      lineSeries("Yobs-Ycal", 1, p2Diff, BLUE, 1.7, 4),
      scatterSeries("Posr", 1, p2Cheralite.map((v) => [v, row2a]), GREEN, "rect", [1.4, 7], 4),
      scatterSeries("Posr", 1, p2CheraliteDense.map((v) => [v, row2a]), GREEN, "rect", [2.0, 7], 4),
      scatterSeries("Posr", 1, p2UP2O7.map((v) => [v, row2b]), GREEN_LIGHT, "rect", [1.4, 7], 4),
      // panel 3
      lineSeries("Yobs", 2, p3YobsBand, RED, 4, 2),
      scatterSeries("Yobs", 2, p3YobsPoints, RED, X_SYMBOL, 6, 3),
      lineSeries("Ycal", 2, p3Ycal, "#000", 1.3, 4),
      lineSeries("Yobs-Ycal", 2, p3Diff, BLUE, 1.3, 4),
      scatterSeries("Posr", 2, p3Posr.map((v) => [v, row3]), GREEN, "rect", [1.4, 7], 4),
      scatterSeries("Posr", 2, p3PosrDense.map((v) => [v, row3]), GREEN, "rect", [2.4, 7], 4),
    ];

    const txt = (text: string, x: number, y: number, fontSize: number, extra: any = {}) => ({
      type: "text", x, y, silent: true, z: 10,
      style: {
        text, fontSize, fontFamily: FONT, fill: "#111",
        align: "center", verticalAlign: "middle", textAlign: "center", textVerticalAlign: "middle",
        ...extra,
      },
    });
    const yTitle = (y: number) => ({ ...txt("Intensity (a.u.)", 23, y, 21), rotation: Math.PI / 2 });
    const circ = (text: string, x: number, y: number) =>
      txt(text, x, y, 40, { fontFamily: "'Noto Sans CJK JP', 'Noto Sans CJK SC', sans-serif", fontWeight: "bold", fill: "#000" });

    const graphic = [
      yTitle(178), yTitle(620), yTitle(1082),
      circ("①", 90.5, 47.5), txt("a)", 129.5, 44, 28, { fontWeight: "bold", fill: "#000" }),
      circ("②", 89.5, 490), txt("a)", 130.5, 490, 28, { fontWeight: "bold", fill: "#000" }),
      circ("①", 87, 941), txt("b)", 122, 943, 28, { fontWeight: "bold", fill: "#000" }),
      txt("*: sample holder", 377, 134, 17.5, { align: "left", textAlign: "left", fontFamily: "'Open Sans', " + FONT }),
      txt("Cheralite", 526, 717, 12.5, { align: "left", textAlign: "left", fontFamily: "'Open Sans', sans-serif" }),
      {
        type: "text", x: 526, y: 738, silent: true, z: 10,
        style: {
          text: "UP{s|2}O{s|7}", fontSize: 12.5, fontFamily: "'Open Sans', sans-serif", fill: "#111",
          align: "left", verticalAlign: "middle", textAlign: "left", textVerticalAlign: "middle",
          rich: { s: { fontSize: 8.5, fontFamily: "'Open Sans', sans-serif", fill: "#111", padding: [7, 0, 0, 0] } },
        },
      },
    ];

    chart.setOption({
      animation: false,
      backgroundColor: "#fff",
      grid: [
        { left: 61.7, top: 15.7, width: 460, height: 355, show: true, borderColor: "#000", borderWidth: 1.5, backgroundColor: "transparent", containLabel: false, outerBoundsMode: "none" },
        { left: 61.7, top: 462.7, width: 461.3, height: 358.3, show: true, borderColor: "#000", borderWidth: 1.5, backgroundColor: "transparent", containLabel: false, outerBoundsMode: "none" },
        { left: 61.7, top: 913, width: 467.3, height: 351, show: true, borderColor: "#000", borderWidth: 1.5, backgroundColor: "transparent", containLabel: false, outerBoundsMode: "none" },
      ],
      xAxis: [...a1.xAxes, ...a2.xAxes, ...a3.xAxes],
      yAxis: [...a1.yAxes, ...a2.yAxes, ...a3.yAxes],
      legend: [
        legendFor(369, 26, 19, 3.7, 43, [3.5, 2, 3.5, 3], X_ICON_SMALL, RED_LIGHT),
        legendFor(383, 472.7, 18, 4, 41, [4, 2, 4, 3], X_ICON_SMALL, RED_LIGHT),
        legendFor(383, 932.7, 17.5, 3.5, 40, [3, 2, 3, 3], X_ICON_BIG, RED),
      ],
      series,
      graphic,
    });

    return () => chart.dispose();
  }, []);

  return <div ref={ref} style={{ width: 583, height: 1332 }} />;
}
